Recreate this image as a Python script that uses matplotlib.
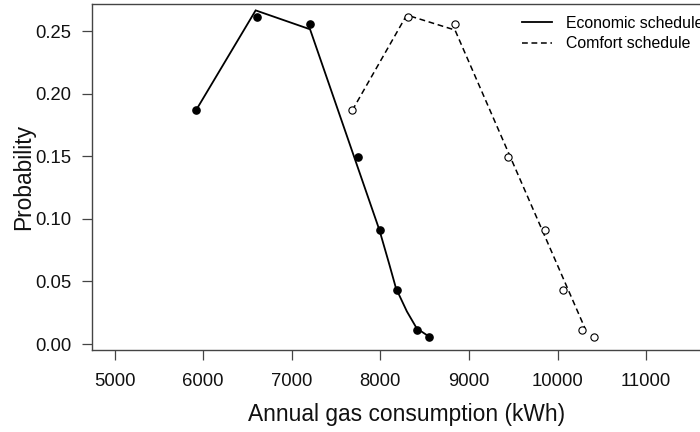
import matplotlib
matplotlib.use("Agg")
import matplotlib.pyplot as plt

# Economic schedule: observed points and fitted line
econ_x = [5920, 6605, 7210, 7745, 8000, 8185, 8418, 8553]
econ_y = [0.1867, 0.2609, 0.2556, 0.1494, 0.0908, 0.0429, 0.0109, 0.0056]
econ_line_x = [5920, 6593, 7207, 7990, 8100, 8177, 8300, 8411, 8553]
econ_line_y = [0.1867, 0.2665, 0.2514, 0.0910, 0.0640, 0.0445, 0.0260, 0.0125, 0.0058]

# Comfort schedule: observed points and fitted line
comf_x = [7684, 8309, 8843, 9445, 9862, 10062, 10280, 10412]
comf_y = [0.1867, 0.2612, 0.2556, 0.1494, 0.0908, 0.0429, 0.0109, 0.0056]
comf_line_x = [7684, 8298, 8843, 10310]
comf_line_y = [0.1867, 0.2628, 0.2508, 0.0125]

x_ticks = [5000, 6000, 7000, 8000, 9000, 10000, 11000]
y_ticks = [0.00, 0.05, 0.10, 0.15, 0.20, 0.25]
y_tick_labels = ["0.00", "0.05", "0.10", "0.15", "0.20", "0.25"]

plt.rcParams['font.family'] = ['Liberation Sans', 'DejaVu Sans']

W, H = 700, 432
fig = plt.figure(figsize=(7.0, 4.32), dpi=100)
ax = fig.add_axes([92 / W, 1 - 350 / H, 629 / W, 346 / H])

edge = '#444444'
ax.plot(econ_line_x, econ_line_y, color='black', lw=1.3, solid_joinstyle='miter',
        label='Economic schedule')
ax.plot(econ_x, econ_y, 'o', color='black', ms=5.2, mec='black')
ax.plot(comf_line_x, comf_line_y, color='black', lw=1.1, dashes=(3.8, 2.4),
        label='Comfort schedule')
ax.plot(comf_x, comf_y, 'o', mfc='white', mec='black', ms=5.2, mew=0.8)

ax.set_xlim(4746, 11845)
ax.set_ylim(-0.00479, 0.2716)
ax.set_xticks(x_ticks)
ax.set_xticklabels([str(t) for t in x_ticks])
ax.set_yticks(y_ticks)
ax.set_yticklabels(y_tick_labels)

for s in ax.spines.values():
    s.set_color(edge)
    s.set_linewidth(1.0)
ax.tick_params(axis='both', length=7.2, width=0.9, color=edge, labelsize=13.3,
               labelcolor='#111111')
ax.tick_params(axis='x', pad=9)
ax.tick_params(axis='y', pad=7.5)

ax.set_xlabel('Annual gas consumption (kWh)', fontsize=16.4, color='#111111')
ax.set_ylabel('Probability', fontsize=16.4, color='#111111')
ax.xaxis.set_label_coords(0.5, -(414 - 350) / 346)
ax.xaxis.label.set_va('center')
ax.yaxis.set_label_coords(-(92 - 24) / 629, 0.5)
ax.yaxis.label.set_va('center')

fig.legend(loc='upper left', bbox_to_anchor=(522 / W, 1 - 16 / H),
           frameon=False, fontsize=11.4, handlelength=1.9, handletextpad=0.9,
           labelspacing=0.32, borderpad=0, borderaxespad=0)

fig.savefig('out.png', dpi=100)
